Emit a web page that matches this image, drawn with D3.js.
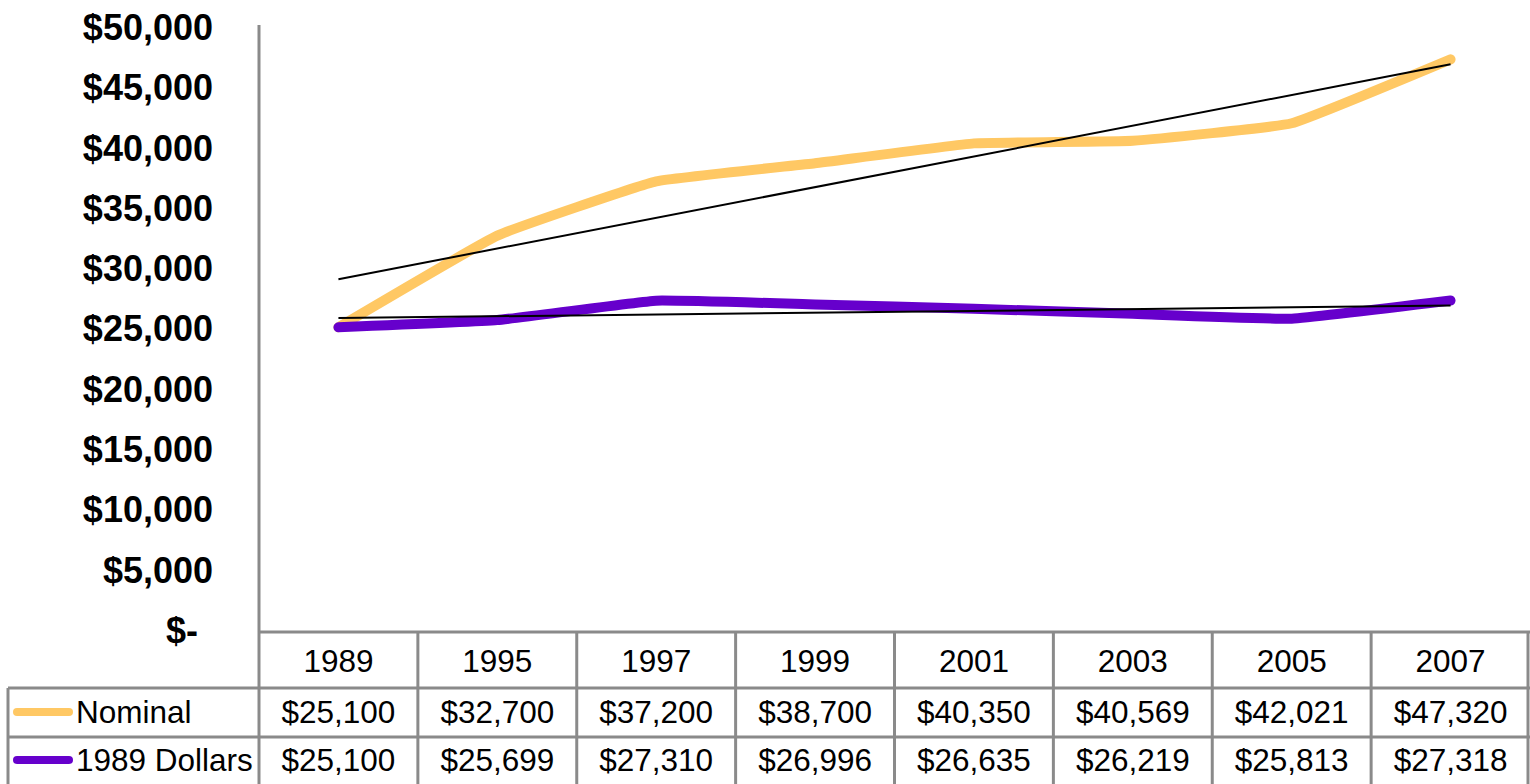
<!DOCTYPE html>
<html>
<head>
<meta charset="utf-8">
<script src="https://cdn.jsdelivr.net/npm/d3@7"></script>
<style>
  html, body { margin: 0; padding: 0; background: #fff; }
  svg { display: block; }
</style>
</head>
<body>
<div id="viz"></div>
<script>
const YEARS = ["1989", "1995", "1997", "1999", "2001", "2003", "2005", "2007"];
const NOMINAL = [25100, 32700, 37200, 38700, 40350, 40569, 42021, 47320];
const REAL_1989 = [25100, 25699, 27310, 26996, 26635, 26219, 25813, 27318];
const Y_TICKS = [0, 5000, 10000, 15000, 20000, 25000, 30000, 35000, 40000, 45000, 50000];

const SERIES = [
  { name: "Nominal", values: NOMINAL, color: "#FFC864" },
  { name: "1989 Dollars", values: REAL_1989, color: "#6600CC" }
];

const W = 1530, H = 784;
const GRID = "#8a8a8a";
const FONT = "'Liberation Sans', Arial, sans-serif";

const svg = d3.select("#viz").append("svg")
  .attr("width", W)
  .attr("height", H);

const x = d3.scaleBand().domain(YEARS).range([259, 1530]);
const cx = d => x(d) + x.bandwidth() / 2;
const y = d3.scaleLinear().domain([0, 50000]).range([630, 27]);

// Y tick labels (accounting style, zero shown as "$-").
const fmt = d3.format(",");
svg.append("g")
  .selectAll("text")
  .data(Y_TICKS)
  .join("text")
  .attr("x", d => d === 0 ? 198 : 213)
  .attr("y", d => y(d))
  .attr("dy", "0.36em")
  .attr("text-anchor", "end")
  .attr("font-family", FONT)
  .attr("font-weight", "bold")
  .attr("font-size", 36)
  .attr("fill", "#000")
  .text(d => d === 0 ? "$-" : "$" + fmt(d));

// Vertical axis line.
svg.append("line")
  .attr("x1", 259).attr("x2", 259)
  .attr("y1", 25).attr("y2", 632)
  .attr("stroke", GRID)
  .attr("stroke-width", 3);

// Series lines (lightly smoothed, like the source spreadsheet chart).
const line = d3.line()
  .x((v, i) => cx(YEARS[i]))
  .y(v => y(v))
  .curve(d3.curveCardinal.tension(0.7));

svg.append("g")
  .selectAll("path")
  .data(SERIES)
  .join("path")
  .attr("d", d => line(d.values))
  .attr("fill", "none")
  .attr("stroke", d => d.color)
  .attr("stroke-width", 10)
  .attr("stroke-linecap", "round")
  .attr("stroke-linejoin", "round");

// Linear trendlines fitted to each series.
function fit(values) {
  const xs = values.map((v, i) => i + 1);
  const mx = d3.mean(xs), my = d3.mean(values);
  const slope = d3.sum(xs, (xi, i) => (xi - mx) * (values[i] - my)) /
    d3.sum(xs, xi => (xi - mx) ** 2);
  return xi => my + slope * (xi - mx);
}

svg.append("g")
  .selectAll("line")
  .data(SERIES)
  .join("line")
  .attr("x1", cx(YEARS[0]))
  .attr("x2", cx(YEARS[YEARS.length - 1]))
  .attr("y1", d => y(fit(d.values)(1)))
  .attr("y2", d => y(fit(d.values)(YEARS.length)))
  .attr("stroke", "#000")
  .attr("stroke-width", 2);

// Data table.
const table = svg.append("g")
  .attr("stroke", GRID)
  .attr("stroke-width", 3)
  .attr("fill", "none");

// horizontal rules
table.append("line").attr("x1", 259).attr("x2", 1530).attr("y1", 632).attr("y2", 632);
[688, 737].forEach(yy => {
  table.append("line").attr("x1", 8).attr("x2", 1530).attr("y1", yy).attr("y2", yy);
});
// vertical rules
x.domain().forEach(d => {
  table.append("line").attr("x1", x(d)).attr("x2", x(d)).attr("y1", 632).attr("y2", H);
});
table.append("line").attr("x1", 1528).attr("x2", 1528).attr("y1", 632).attr("y2", H);
table.append("line").attr("x1", 8).attr("x2", 8).attr("y1", 688).attr("y2", H);

const cellText = (g) => g
  .attr("font-family", FONT)
  .attr("font-size", 31.5)
  .attr("fill", "#000")
  .attr("dy", "0.36em");

svg.append("g")
  .selectAll("text")
  .data(YEARS)
  .join("text")
  .attr("x", d => cx(d))
  .attr("y", 661)
  .attr("text-anchor", "middle")
  .call(cellText)
  .text(d => d);

SERIES.forEach((s, r) => {
  const cy = r === 0 ? 712 : 760;
  svg.append("line")
    .attr("x1", 17).attr("x2", 69)
    .attr("y1", cy).attr("y2", cy)
    .attr("stroke", s.color)
    .attr("stroke-width", 8)
    .attr("stroke-linecap", "round");
  svg.append("text")
    .attr("x", 76)
    .attr("y", cy)
    .call(cellText)
    .text(s.name);
  svg.append("g")
    .selectAll("text")
    .data(s.values)
    .join("text")
    .attr("x", (v, i) => cx(YEARS[i]))
    .attr("y", cy)
    .attr("text-anchor", "middle")
    .call(cellText)
    .text(v => "$" + fmt(v));
});
</script>
</body>
</html>
